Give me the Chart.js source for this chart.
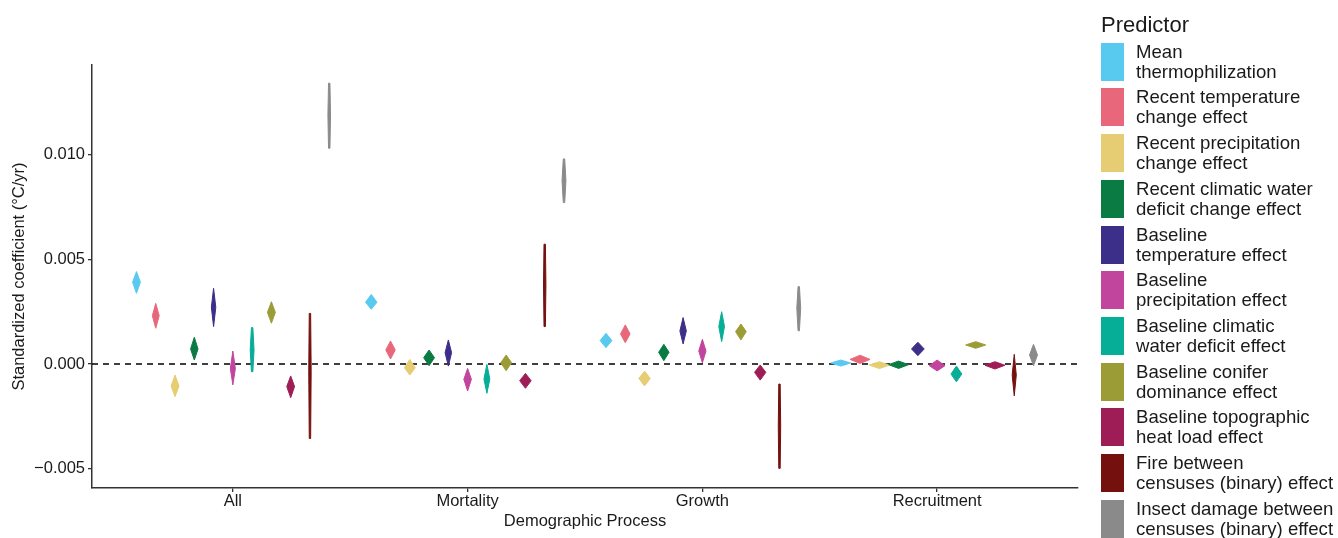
<!DOCTYPE html>
<html>
<head>
<meta charset="utf-8">
<script src="https://cdn.jsdelivr.net/npm/chart.js"></script>
<style>
  html, body { margin: 0; padding: 0; background: #fff; }
  #wrap { position: relative; width: 1338px; height: 538px; overflow: hidden; font-family: "Liberation Sans", Arial, sans-serif; }
  #chart { position: absolute; left: 0; top: 0; }
  #legend { position: absolute; left: 1101px; top: 0; color: #1a1a1a; }
  #legend .title { position: absolute; left: 0; top: 12px; font-size: 22px; white-space: nowrap; }
  #legend .box { position: absolute; left: 0; width: 23px; height: 38px; }
  #legend .lab { position: absolute; left: 35px; font-size: 18.6px; line-height: 20px; white-space: nowrap; }
</style>
</head>
<body>
<div id="wrap">
  <canvas id="chart" width="1338" height="538"></canvas>
  <div id="legend"></div>
</div>
<script>

const categories = ["All", "Mortality", "Growth", "Recruitment"];

const predictors = [
    ["Mean", "thermophilization"],
    ["Recent temperature", "change effect"],
    ["Recent precipitation", "change effect"],
    ["Recent climatic water", "deficit change effect"],
    ["Baseline", "temperature effect"],
    ["Baseline", "precipitation effect"],
    ["Baseline climatic", "water deficit effect"],
    ["Baseline conifer", "dominance effect"],
    ["Baseline topographic", "heat load effect"],
    ["Fire between", "censuses (binary) effect"],
    ["Insect damage between", "censuses (binary) effect"]
];

const colors = ["#58caf0", "#e9677a", "#e6cc72", "#0a7b43", "#3b2f89", "#c2459d", "#06ad97", "#9c9c37", "#9f1d57", "#74110f", "#8a8a8a"];

// one row per predictor, columns = All, Mortality, Growth, Recruitment
const estimate = [
    [0.00391, 0.00295, 0.00112, 0.00005],
    [0.00231, 0.00067, 0.00144, 0.00022],
    [-0.00105, -0.00018, -0.00069, -0.00005],
    [0.00072, 0.00030, 0.00056, -0.00003],
    [0.00271, 0.00054, 0.00158, 0.00072],
    [-0.00021, -0.00073, 0.00062, -0.00008],
    [0.00067, -0.00072, 0.00179, -0.00048],
    [0.00247, 0.00006, 0.00155, 0.00091],
    [-0.00108, -0.00080, -0.00040, -0.00006],
    [-0.00030, 0.00378, -0.00297, -0.00053],
    [0.01191, 0.00877, 0.00267, 0.00043]
];

const lower = [
    [0.00338, 0.00262, 0.00078, -0.00010],
    [0.00171, 0.00024, 0.00102, 0.00003],
    [-0.00156, -0.00053, -0.00105, -0.00022],
    [0.00019, -0.00008, 0.00016, -0.00021],
    [0.00179, -0.00010, 0.00096, 0.00040],
    [-0.00100, -0.00129, 0.00006, -0.00033],
    [-0.00037, -0.00140, 0.00107, -0.00085],
    [0.00195, -0.00032, 0.00115, 0.00075],
    [-0.00161, -0.00116, -0.00077, -0.00024],
    [-0.00356, 0.00179, -0.00499, -0.00152],
    [0.01032, 0.00772, 0.00159, -0.00008]
];

const upper = [
    [0.00442, 0.00333, 0.00147, 0.00019],
    [0.00290, 0.00110, 0.00187, 0.00042],
    [-0.00053, 0.00022, -0.00034, 0.00011],
    [0.00128, 0.00067, 0.00094, 0.00014],
    [0.00362, 0.00115, 0.00222, 0.00104],
    [0.00062, -0.00021, 0.00118, 0.00019],
    [0.00174, -0.00002, 0.00250, -0.00010],
    [0.00298, 0.00043, 0.00191, 0.00107],
    [-0.00057, -0.00045, -0.00005, 0.00011],
    [0.00242, 0.00573, -0.00096, 0.00046],
    [0.01343, 0.00981, 0.00370, 0.00094]
];

const yTicks = [-0.005, 0, 0.005, 0.010];

const dodge = 0.0821;


// diamonds: tall when the interval is wide, wide when it is narrow
const diamondPlugin = {
    id: "diamonds",
    afterDatasetsDraw(chart){
        const ctx = chart.ctx;
        const xs = chart.scales.x;
        const ys = chart.scales.y;
        chart.data.datasets.forEach(ds => {
            if(!ds.diamond) return;
            ds.data.forEach(p => {
                const cx = xs.getPixelForValue(p.x);
                const yTop = ys.getPixelForValue(p.hi);
                const yMid = ys.getPixelForValue(p.y);
                const yBot = ys.getPixelForValue(p.lo);
                const w = Math.max(2.4, Math.min(20, 170 / (yBot - yTop))) / 2;
                const tip = w < 2 ? 0.7 : 0;
                ctx.save();
                ctx.fillStyle = ds.borderColor;
                ctx.strokeStyle = ds.borderColor;
                ctx.lineWidth = 1;
                ctx.lineJoin = "round";
                ctx.beginPath();
                ctx.moveTo(cx - tip, yTop);
                ctx.lineTo(cx + tip, yTop);
                ctx.lineTo(cx + w, yMid);
                ctx.lineTo(cx + tip, yBot);
                ctx.lineTo(cx - tip, yBot);
                ctx.lineTo(cx - w, yMid);
                ctx.closePath();
                ctx.fill();
                ctx.stroke();
                ctx.restore();
            });
        });
    }
};


let datasets = [{
    type: "line",
    data: [{x: 0.4, y: 0}, {x: 4.6, y: 0}],
    borderColor: "#000",
    borderWidth: 1.3,
    borderDash: [6, 5],
    pointRadius: 0
}];

predictors.forEach((name, k) => {
    datasets.push({
        diamond: true,
        label: name.join(" "),
        borderColor: colors[k],
        pointRadius: 0,
        data: categories.map((c, g) => ({
            x: g + 1 + (k - 5) * dodge,
            y: estimate[k][g],
            lo: lower[k][g],
            hi: upper[k][g]
        }))
    });
});

const tickFont = { family: "'Liberation Sans', Arial, sans-serif", size: 16.5 };

new Chart(document.getElementById("chart"), {
    type: "scatter",
    data: { datasets: datasets },
    plugins: [diamondPlugin],
    options: {
        responsive: false,
        animation: false,
        layout: { padding: { top: 65, right: 260, bottom: 0, left: 0 } },
        plugins: { legend: { display: false }, tooltip: { enabled: false } },
        scales: {
            x: {
                type: "linear",
                min: 0.4,
                max: 4.6,
                afterBuildTicks: s => { s.ticks = categories.map((c, i) => ({ value: i + 1 })); },
                afterFit: s => { s.height = 50; },
                ticks: {
                    color: "#1a1a1a",
                    font: tickFont,
                    padding: 0,
                    callback: v => categories[Math.round(v) - 1]
                },
                grid: { drawOnChartArea: false, drawTicks: true, tickLength: 4, color: "#333", lineWidth: 1.3 },
                border: { display: true, color: "#333", width: 1.5 },
                title: { display: true, text: "Demographic Process", color: "#1a1a1a", font: tickFont, padding: { top: 0, bottom: 7 } }
            },
            y: {
                min: -0.00593,
                max: 0.0143,
                afterBuildTicks: s => { s.ticks = yTicks.map(v => ({ value: v })); },
                afterFit: s => { s.width = 92; },
                ticks: {
                    color: "#1a1a1a",
                    font: tickFont,
                    padding: 3,
                    callback: v => (v < 0 ? "\u2212" : "") + Math.abs(v).toFixed(3)
                },
                grid: { drawOnChartArea: false, drawTicks: true, tickLength: 4, color: "#333", lineWidth: 1.3 },
                border: { display: true, color: "#333", width: 1.5 },
                title: { display: true, text: "Standardized coefficient (\u00B0C/yr)", color: "#1a1a1a", font: tickFont, padding: { top: 10, bottom: 0 } }
            }
        }
    }
});


// legend on the right
const legend = document.getElementById("legend");
legend.innerHTML = '<div class="title">Predictor</div>';
predictors.forEach((name, k) => {
    const top = 42.7 + k * 45.7;
    legend.innerHTML += '<div class="box" style="top:' + top + 'px;background:' + colors[k] + '"></div>' +
        '<div class="lab" style="top:' + (top - 1) + 'px">' + name[0] + '<br>' + name[1] + '</div>';
});

</script>
</body>
</html>
